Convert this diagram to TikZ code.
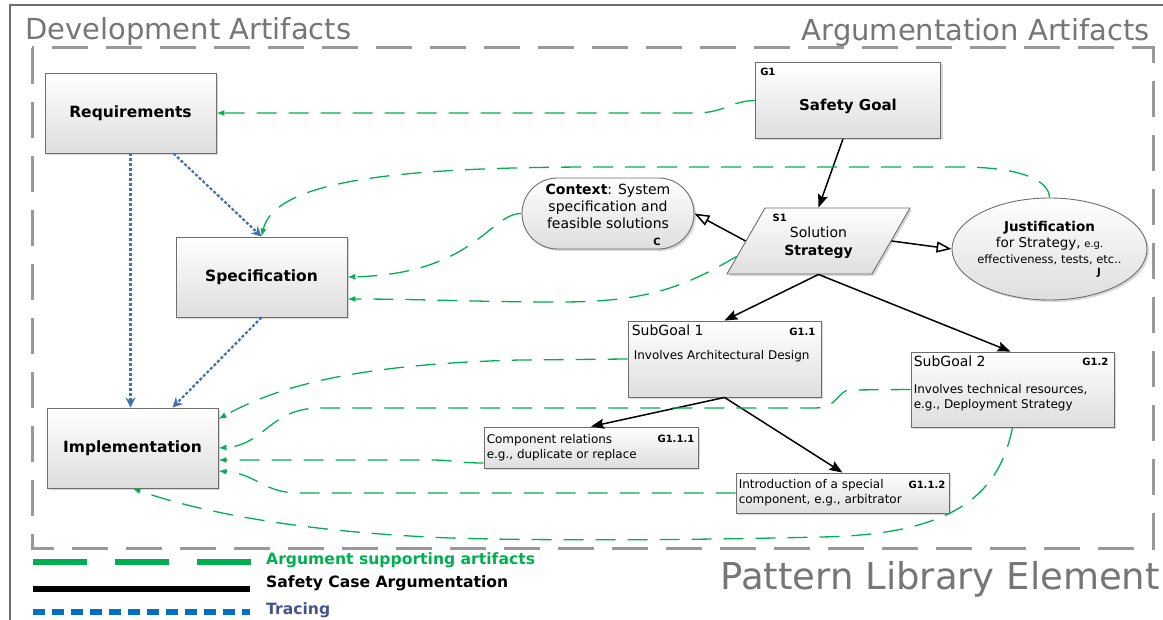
\documentclass[tikz,border=0pt]{standalone}
\usepackage{fontspec}
\setmainfont{DejaVu Sans}
\usetikzlibrary{arrows.meta,shapes.geometric,shapes.misc,shadows,calc,positioning}

\definecolor{supportgreen}{RGB}{0,176,80}
\definecolor{traceblue}{RGB}{65,113,176}
\definecolor{legendblue}{RGB}{0,112,192}
\definecolor{tracetext}{RGB}{68,84,140}
\definecolor{titlegray}{RGB}{118,118,118}
\definecolor{boxedge}{RGB}{110,110,110}
\newcommand{\fsz}[2]{\fontsize{#1}{#2}\selectfont}

\tikzset{
  artifact/.style={draw=boxedge, line width=0.9pt, top color=white, bottom color=black!13,
    drop shadow={shadow xshift=2pt, shadow yshift=-2pt, fill=black!30}, inner sep=0pt},
  devbox/.style={artifact, minimum width=171pt, minimum height=80pt, font=\bfseries\fsz{15.5}{18}},
  boxlabel/.style={font=\bfseries\fsz{15}{18}, inner sep=0pt},
  tagtext/.style={font=\bfseries\fsz{10}{12}, inner sep=0pt},
  headtext/.style={font=\fsz{14}{16}, inner sep=0pt},
  bodytext/.style={font=\fsz{12}{15}, inner sep=0pt, align=left},
  titletext/.style={font=\fsz{29}{32}, text=titlegray, inner sep=0pt},
  legendtext/.style={font=\bfseries\fsz{15.6}{17}, inner sep=0pt, anchor=west},
  support/.style={supportgreen, line width=1.3pt, dash pattern=on 20pt off 12pt,
    -{Latex[length=8pt,width=6pt]}},
  argue/.style={black, line width=1.5pt, -{Stealth[length=13pt,width=10pt,inset=2pt]}},
  argueopen/.style={black, line width=1.5pt, -{Triangle[open,length=15pt,width=11pt]}},
  trace/.style={traceblue, line width=2.2pt, dash pattern=on 3pt off 2pt,
    -{Stealth[length=10pt,width=10pt]}},
}

\begin{document}
\begin{tikzpicture}[x=1pt,y=-1pt]
\useasboundingbox (0,0) rectangle (1163,620);
% frame and pattern region
\draw[boxedge, line width=2pt] (10,620) -- (10,5) -- (1163,5);
\draw[black!40, line width=3pt, dash pattern=on 36pt off 18pt] (32,48) rectangle (1153,548);
\node[titletext, anchor=base west] (devtitle) at (25,40) {Development Artifacts};
\node[titletext, anchor=base east] (argtitle) at (1150,41) {Argumentation Artifacts};
\node[titletext, font=\fsz{37}{40}, anchor=base east] (libtitle) at (1160,589) {Pattern Library Element};

% development artifacts
\node[devbox] (req) at (130.5,113) {Requirements};
\node[devbox] (spec) at (261.5,277) {Specification};
\node[devbox] (impl) at (132.5,448) {Implementation};

% goal
\node[artifact, minimum width=185pt, minimum height=76pt] (g1) at (848,100.5) {};
\node[boxlabel] (g1-text) at ([yshift=-6pt]g1.center) {Safety Goal};
\node[tagtext, anchor=west] (g1-tag) at ([xshift=5pt,yshift=-10pt]g1.north west) {G1};

% context
\node[artifact, rounded rectangle, minimum width=172pt, minimum height=71pt] (ctx) at (608,213.5) {};
\node[font=\fsz{14}{17}, align=center, inner sep=0pt] (ctx-text) at ([yshift=7pt]ctx.center)
  {\textbf{Context}: System\\specification and\\feasible solutions};
\node[tagtext] (ctx-tag) at ([xshift=49pt,yshift=-28.5pt]ctx.center) {C};

% strategy (slanted box)
\node[artifact, minimum width=145pt, minimum height=66pt, xslant=0.577, transform shape] (s1) at (818.5,241) {};
\node[font=\fsz{14}{18}, align=center, inner sep=0pt] (s1-text) at ([yshift=-2pt]s1.center)
  {Solution\\\textbf{Strategy}};
\node[tagtext, anchor=west] (s1-tag) at ([xshift=-46pt,yshift=23pt]s1.center) {S1};

% justification
\node[artifact, ellipse, minimum width=195pt, minimum height=102pt] (just) at (1049.5,249) {};
\node[align=center, inner sep=0pt, font=\fsz{11.5}{16}] (just-text) at ([yshift=6pt]just.center)
  {{\bfseries\fsz{13.5}{16}Justification}\\{\fsz{13.5}{16}for Strategy,} {\fsz{10}{16}e.g.}\\effectiveness, tests, etc..};
\node[tagtext] (just-tag) at ([xshift=49.5pt,yshift=-24pt]just.center) {J};

% sub goals
\node[artifact, minimum width=193pt, minimum height=76pt] (sg1) at (724.5,359) {};
\node[headtext, anchor=west] (sg1-head) at ([xshift=4pt,yshift=-10pt]sg1.north west) {SubGoal 1};
\node[tagtext, anchor=east] (sg1-tag) at ([xshift=-6pt,yshift=-11pt]sg1.north east) {G1.1};
\node[bodytext, anchor=west] (sg1-body) at ([xshift=6pt,yshift=3pt]sg1.west) {Involves Architectural Design};

\node[artifact, minimum width=203pt, minimum height=75pt] (sg2) at (1012.5,389.5) {};
\node[headtext, anchor=west] (sg2-head) at ([xshift=3pt,yshift=-10pt]sg2.north west) {SubGoal 2};
\node[tagtext, anchor=east] (sg2-tag) at ([xshift=-6pt,yshift=-10pt]sg2.north east) {G1.2};
\node[bodytext, anchor=north west] (sg2-body) at ([xshift=3pt,yshift=-33pt]sg2.north west)
  {Involves technical resources,\\e.g., Deployment Strategy};

\node[artifact, minimum width=214pt, minimum height=41pt] (g111) at (591,447.5) {};
\node[bodytext, anchor=west] (g111-text) at ([xshift=3pt]g111.west) {Component relations\\e.g., duplicate or replace};
\node[tagtext, anchor=east] (g111-tag) at ([xshift=-4pt,yshift=-12pt]g111.north east) {G1.1.1};

\node[artifact, minimum width=213pt, minimum height=40pt] (g112) at (842.5,493) {};
\node[bodytext, anchor=west] (g112-text) at ([xshift=3pt]g112.west) {Introduction of a special\\component, e.g., arbitrator};
\node[tagtext, anchor=east] (g112-tag) at ([xshift=-4pt,yshift=-12pt]g112.north east) {G1.1.2};

% safety case argumentation
\draw[argue] ([xshift=-5pt]g1.south) -- (s1.center |- s1.north);
\draw[argueopen] (s1.west) -- (ctx.east);
\draw[argueopen] (s1.east) -- (just.west);
\draw[argue] (s1.center |- s1.south) -- (sg1.north);
\draw[argue] (s1.center |- s1.south) -- ([xshift=-2pt]sg2.north);
\draw[argue] (sg1.south) -- (g111.north);
\draw[argue] (sg1.south) -- (g112.north);

% tracing
\draw[trace] (req.south) -- (req.south |- impl.north);
\draw[trace] ([xshift=43pt]req.south) -- (spec.north);
\draw[trace] (spec.south) -- ([xshift=40pt]impl.north);

% argument supporting artifacts
\draw[support] (g1.west) .. controls (730,101) and (725,113) .. (695,113) -- (req.east);
\draw[support] (just.north) .. controls (1049,180) and (1020,167) .. (960,167) -- (600,167)
  .. controls (400,167) and (275,180) .. (spec.north);
\draw[support] (ctx.west) .. controls (490,213) and (475,274) .. (spec.east);
\draw[support] ($(s1.south west)!0.27!(s1.north west)$) .. controls (680,290) and (640,302) .. (560,302)
  .. controls (480,302) and (420,299) .. ([yshift=-22pt]spec.east);
\draw[support] (sg1.west) -- (520,360) .. controls (360,364) and (280,385) .. ([yshift=29pt]impl.east);
\draw[support] (sg2.west) -- (850,390) .. controls (838,390) and (838,408) .. (815,408) -- (320,408)
  .. controls (270,408) and (265,445) .. (impl.east);
\draw[support] ([yshift=-15.5pt]g111.west) .. controls (455,463) and (455,460) .. (430,460) -- ([yshift=-12pt]impl.east);
\draw[support] (g112.west) -- (300,493) .. controls (262,493) and (258,474) .. ([yshift=-23pt]impl.east);
\draw[support] (sg2.south) .. controls (1000,490) and (960,535) .. (820,537)
  .. controls (700,540) and (550,541) .. (450,538) .. controls (300,532) and (200,512) .. (impl.south);

% legend
\coordinate (leg-a) at (33,562);
\coordinate (leg-b) at (33,589);
\coordinate (leg-c) at (33,612);
\draw[supportgreen, line width=5.5pt, dash pattern=on 54pt off 28pt] (leg-a) -- ++(218,0);
\draw[black, line width=5.5pt] (leg-b) -- ++(217,0);
\draw[legendblue, line width=5.5pt, dash pattern=on 12pt off 7pt] (leg-c) -- ++(217,0);
\node[legendtext, text=supportgreen] (leg-support) at (266,560) {Argument supporting artifacts};
\node[legendtext] (leg-argue) at (266,583) {Safety Case Argumentation};
\node[legendtext, text=tracetext] (leg-trace) at (266,610) {Tracing};
\end{tikzpicture}
\end{document}
